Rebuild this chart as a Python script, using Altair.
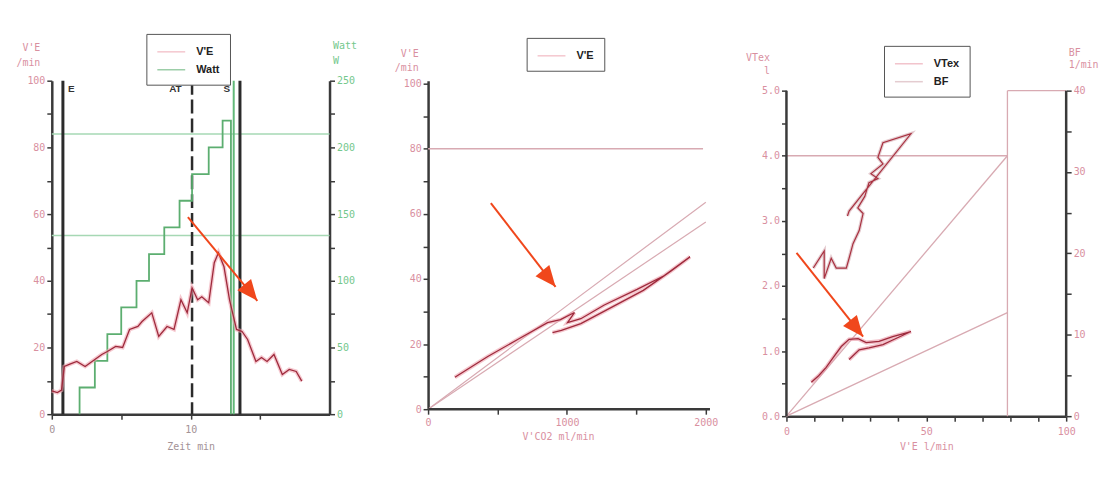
import altair as alt
import pandas as pd

FONT = "DejaVu Sans Mono"
AX = "#3a3a3a"
PINK = "#d9909f"
GREEN = "#74c88c"
GRAYT = "#a39296"
VE_CORE = "#9e2a3c"
VE_HALO = "#eea3af"
WATT_C = "#5cae70"
REF_G = "#a6d8b4"
REF_P = "#d8aab2"
ARROW = "#f0471c"
ARROW_SHAPE = "M0,0 L-0.85,2 L0.85,2 Z"
LEGEND_LINE = "M-1,0 L3,0"

# ---------------- Panel 1: V'E and Watt over time ----------------
t_ve = [0.0, 0.4, 0.7, 0.9, 1.3, 1.8, 2.4, 2.9, 3.6, 4.0, 4.6, 5.1, 5.6, 6.2, 6.5, 7.2, 7.7, 8.3, 8.8, 9.3,
        9.75, 10.1, 10.5, 10.8, 11.3, 11.7, 12.0, 12.4, 12.8, 13.3, 13.7, 14.1, 14.7, 15.1, 15.5, 16.0, 16.6, 17.1, 17.6, 18.0]
ve_time = [7.0, 6.5, 7.2, 14.3, 15.0, 15.8, 14.3, 15.8, 17.9, 18.8, 20.3, 20.0, 25.4, 26.3, 27.8, 30.4, 23.3, 26.3, 25.4, 34.3,
           30.4, 37.9, 34.3, 35.2, 33.4, 45.4, 48.4, 44.2, 34.3, 25.4, 24.8, 22.4, 15.8, 17.0, 15.8, 17.9, 11.9, 13.4, 12.8, 9.9]
t_watt = [2.0, 2.0, 3.1, 4.0, 5.0, 6.1, 7.0, 8.1, 9.2, 10.1, 11.3, 12.3, 12.9]
watt = [0, 20, 40, 60, 80, 100, 120, 140, 160, 180, 200, 220, 0]
watt_ref = [210, 134]
marker_solid_t = [0.8, 13.55]
marker_dash_t = [10.1]
marker_green_t = [13.1]
marker_labels = ["E", "AT", "S"]
marker_label_t = [1.4, 8.9, 12.6]
marker_label_ve = [97.5, 97.5, 97.5]
arrow1 = [9.8, 59.1, 14.8, 34.0]

# ---------------- Panel 2: V'E vs V'CO2 ----------------
vco2 = [193, 430, 645, 860, 953, 1054, 1004, 1100, 1269, 1505, 1699, 1886, 1750, 1550, 1300, 1100, 960, 896]
ve_co2 = [9.8, 16.2, 21.4, 26.6, 27.5, 29.7, 26.6, 27.8, 32.0, 36.8, 41.0, 46.8, 42.5, 36.5, 30.8, 26.3, 24.2, 23.5]
ref_slope_end = [63.6, 57.5]   # V'E at V'CO2 = 2000 for the lines through the origin
ve_level = [80]
arrow2 = [452, 63.3, 918, 37.6]

# ---------------- Panel 3: VTex and BF vs V'E ----------------
ve_vt = [8.9, 11.5, 14.2, 16.7, 19.6, 22.4, 25.6, 28.5, 33.1, 38.0, 44.5, 38.0, 34.5, 29.5, 26.0, 22.4]
vtex = [0.52, 0.62, 0.75, 0.90, 1.07, 1.18, 1.19, 1.13, 1.15, 1.22, 1.30, 1.17, 1.10, 1.05, 1.02, 0.87]
ve_bf = [9.6, 13.5, 13.5, 16.0, 17.8, 21.4, 22.4, 23.8, 26.0, 27.4, 25.5, 28.0, 29.5, 32.7, 30.2, 34.5, 32.7, 34.5, 44.5, 27.0, 22.4, 21.8]
bf = [18.2, 20.3, 16.9, 19.4, 18.2, 18.2, 19.4, 21.2, 22.8, 24.9, 25.6, 27.0, 28.7, 29.2, 29.8, 31.0, 31.8, 33.6, 34.7, 27.2, 25.2, 24.6]
ve_limit = 79
vt_level = 4.0
vt_diag_end = [4.0, 1.59]
arrow3 = [3.6, 2.51, 27.4, 1.22]


def legend(x, y):
    return alt.Legend(orient="none", legendX=x, legendY=y, title=None, direction="vertical",
                      symbolType=LEGEND_LINE, symbolSize=196, symbolStrokeWidth=1.5,
                      labelFont="Liberation Sans", labelFontSize=11, labelFontWeight="bold",
                      labelColor="#222", strokeColor="#555", fillColor="white",
                      padding=10, rowPadding=5, labelOffset=24)


def arrow_layers(vals, X, Y):
    df = pd.DataFrame({"x0": [vals[0]], "y0": [vals[1]], "x1": [vals[2]], "y1": [vals[3]]})
    shaft = alt.Chart(df).mark_rule(color=ARROW, strokeWidth=2).encode(
        x=X("x0"), y=Y("y0"), x2="x1:Q", y2="y1:Q")
    head = alt.Chart(df).mark_point(shape=ARROW_SHAPE, size=440, angle=141, filled=True,
                                    color=ARROW, opacity=1).encode(x=X("x1"), y=Y("y1"))
    return [shaft, head]


# ---------- Panel 1 ----------
XS1 = alt.Scale(domain=[0, 20], nice=False, zero=False)
AX_X1 = alt.Axis(values=[0, 5, 10, 15], labelExpr="datum.value % 10 == 0 ? datum.label : ''",
                 title="Zeit  min", titleColor=GRAYT, labelColor=GRAYT, titleY=32,
                 titleBaseline="middle", labelPadding=5, labelFlush=False)
YS1 = alt.Scale(domain=[0, 100], nice=False)
WS1 = alt.Scale(domain=[0, 250], nice=False)
AX_VE1 = alt.Axis(orient="left", values=list(range(0, 101, 10)),
                  labelExpr="datum.value % 20 == 0 ? datum.label : ''", labelColor=PINK,
                  title=["V'E", "/min"], titleColor=PINK, titleAngle=0, titleAlign="right",
                  titleBaseline="top", titleX=-12, titleY=-38, titleLineHeight=15)
AX_W1 = alt.Axis(orient="right", values=list(range(0, 251, 25)),
                 labelExpr="datum.value % 50 == 0 ? datum.label : ''", labelColor=GREEN,
                 title=["Watt", "W"], titleColor=GREEN, titleAngle=0, titleAlign="left",
                 titleBaseline="top", titleX=3, titleY=-40, titleLineHeight=15)


def x1(f):
    return alt.X(f"{f}:Q", scale=XS1, axis=AX_X1)


def y1(f, axis=None):
    return alt.Y(f"{f}:Q", scale=YS1, axis=axis)


def w1(f, axis=None):
    return alt.Y(f"{f}:Q", scale=WS1, axis=axis)


ve1_df = pd.DataFrame({"t": t_ve, "v": ve_time, "s": ["V'E"] * len(t_ve)})
w_df = pd.DataFrame({"t": t_watt, "w": watt, "s": ["Watt"] * len(t_watt), "i": list(range(len(t_watt)))})
color1 = alt.Color("s:N", scale=alt.Scale(domain=["V'E", "Watt"], range=[VE_HALO, WATT_C]),
                   legend=legend(95, -47))

wref = alt.Chart(pd.DataFrame({"w": watt_ref, "t0": [0] * len(watt_ref), "t1": [20] * len(watt_ref)})).mark_rule(
    color=REF_G, strokeWidth=1.5).encode(x=x1("t0"), x2="t1:Q", y=w1("w"))
vsolid = alt.Chart(pd.DataFrame({"t": marker_solid_t})).mark_rule(color="#2b2b2b", strokeWidth=3).encode(x=x1("t"))
vdash = alt.Chart(pd.DataFrame({"t": marker_dash_t})).mark_rule(
    color="#2b2b2b", strokeWidth=2.5, strokeDash=[14, 5]).encode(x=x1("t"))
vgreen = alt.Chart(pd.DataFrame({"t": marker_green_t})).mark_rule(color="#62b979", strokeWidth=2).encode(x=x1("t"))
wline = alt.Chart(w_df).mark_line(interpolate="step-after", strokeWidth=1.8).encode(
    x=x1("t"), y=w1("w", AX_W1), color=color1, order="i:Q")
halo1 = alt.Chart(ve1_df).mark_line(strokeWidth=4, opacity=0.6).encode(
    x=x1("t"), y=y1("v", AX_VE1), color=color1)
core1 = alt.Chart(ve1_df).mark_line(strokeWidth=1.3, color=VE_CORE).encode(x=x1("t"), y=y1("v"))
txt1 = alt.Chart(pd.DataFrame({"t": marker_label_t, "v": marker_label_ve, "txt": marker_labels})).mark_text(
    font="Liberation Sans", fontSize=10, fontWeight="bold", color="#333").encode(
    x=x1("t"), y=y1("v"), text="txt:N")

p1 = alt.layer(wref, vsolid, vdash, vgreen, wline, halo1, core1, txt1,
               *arrow_layers(arrow1, x1, y1)).resolve_scale(y="independent").properties(width=279, height=335)

# ---------- Panel 2 ----------
XS2 = alt.Scale(domain=[-129, 2000], nice=False, zero=False)
AX_X2 = alt.Axis(values=[0, 500, 1000, 1500, 2000], format="d",
                 labelExpr="datum.value % 1000 == 0 ? datum.label : ''", domain=False,
                 title="V'CO2  ml/min", titleColor=PINK, labelColor=PINK, titleY=27,
                 titleBaseline="middle", labelPadding=3, labelFlush=False)
YS2 = alt.Scale(domain=[0, 100.92], nice=False)
AX_VE2 = alt.Axis(orient="left", offset=-18, values=list(range(0, 101, 10)),
                  labelExpr="datum.value % 20 == 0 ? datum.label : ''", labelColor=PINK,
                  title=["V'E", "/min"], titleColor=PINK, titleAngle=0, titleAlign="right",
                  titleBaseline="top", titleX=-10, titleY=-32, titleLineHeight=14)


def x2(f):
    return alt.X(f"{f}:Q", scale=XS2, axis=AX_X2)


def y2(f):
    return alt.Y(f"{f}:Q", scale=YS2, axis=AX_VE2)


co2_df = pd.DataFrame({"c": vco2, "v": ve_co2, "s": ["V'E"] * len(vco2), "i": list(range(len(vco2)))})
color2 = alt.Color("s:N", scale=alt.Scale(domain=["V'E"], range=[VE_HALO]), legend=legend(117, -43))

xline2 = alt.Chart(pd.DataFrame({"a": [0], "b": [2030], "v": [0]})).mark_rule(
    color=AX, strokeWidth=2.5).encode(x=x2("a"), x2="b:Q", y=y2("v"))
lvl2 = alt.Chart(pd.DataFrame({"a": [0], "b": [1980], "v": ve_level})).mark_rule(
    color=REF_P, strokeWidth=1.5).encode(x=x2("a"), x2="b:Q", y=y2("v"))
diag2 = alt.Chart(pd.DataFrame({"a": [0, 0], "b": [2000, 2000], "v0": [0, 0], "v1": ref_slope_end})).mark_rule(
    color=REF_P, strokeWidth=1.2).encode(x=x2("a"), x2="b:Q", y=y2("v0"), y2="v1:Q")
halo2 = alt.Chart(co2_df).mark_line(strokeWidth=4, opacity=0.6).encode(
    x=x2("c"), y=y2("v"), color=color2, order="i:Q")
core2 = alt.Chart(co2_df).mark_line(strokeWidth=1.3, color=VE_CORE).encode(x=x2("c"), y=y2("v"), order="i:Q")

p2 = alt.layer(lvl2, diag2, halo2, core2, xline2, *arrow_layers(arrow2, x2, y2)).properties(width=297, height=330)

# ---------- Panel 3 ----------
XS3 = alt.Scale(domain=[0, 100], nice=False)
AX_X3 = alt.Axis(values=list(range(0, 101, 10)), labelExpr="datum.value % 50 == 0 ? datum.label : ''",
                 title="V'E  l/min", titleColor=PINK, labelColor=PINK, titleY=30,
                 titleBaseline="middle", labelPadding=5, labelFlush=False)
VS3 = alt.Scale(domain=[0, 5.153], nice=False)
BS3 = alt.Scale(domain=[0, 41.22], nice=False)
AX_VT = alt.Axis(orient="left", domain=False, values=[v / 2 for v in range(0, 11)],
                 labelExpr="datum.value % 1 == 0 ? format(datum.value, '.1f') : ''", labelColor=PINK,
                 title=["VTex", "l"], titleColor=PINK, titleAngle=0, titleAlign="right",
                 titleBaseline="top", titleX=-17, titleY=-28, titleLineHeight=13)
AX_BF = alt.Axis(orient="right", domain=False, values=list(range(0, 41, 5)),
                 labelExpr="datum.value % 10 == 0 ? datum.label : ''", labelColor=PINK,
                 title=["BF", "1/min"], titleColor=PINK, titleAngle=0, titleAlign="left",
                 titleBaseline="top", titleX=2, titleY=-33, titleLineHeight=12)


def x3(f):
    return alt.X(f"{f}:Q", scale=XS3, axis=AX_X3)


def v3(f, axis=None):
    return alt.Y(f"{f}:Q", scale=VS3, axis=axis)


def b3(f, axis=None):
    return alt.Y(f"{f}:Q", scale=BS3, axis=axis)


vt_df = pd.DataFrame({"e": ve_vt, "v": vtex, "s": ["VTex"] * len(ve_vt), "i": list(range(len(ve_vt)))})
bf_df = pd.DataFrame({"e": ve_bf, "b": bf, "s": ["BF"] * len(ve_bf), "i": list(range(len(ve_bf)))})
color3 = alt.Color("s:N", scale=alt.Scale(domain=["VTex", "BF"], range=["#e895a4", "#cfa3aa"]),
                   legend=legend(98, -35))

axl3 = alt.Chart(pd.DataFrame({"e": [0, 100], "v0": [0, 0], "v1": [5.0, 5.0]})).mark_rule(
    color=AX, strokeWidth=2.5).encode(x=x3("e"), y=v3("v0", AX_VT), y2="v1:Q")
segs3 = alt.Chart(pd.DataFrame({
    "e0": [0, ve_limit, ve_limit, 0, 0],
    "e1": [ve_limit, ve_limit, 100, ve_limit, ve_limit],
    "v0": [vt_level, 0, 5.0, 0, 0],
    "v1": [vt_level, 5.0, 5.0, vt_diag_end[0], vt_diag_end[1]],
})).mark_rule(color=REF_P, strokeWidth=1.3).encode(x=x3("e0"), x2="e1:Q", y=v3("v0"), y2="v1:Q")
bfh = alt.Chart(bf_df).mark_line(strokeWidth=3.5, opacity=0.55).encode(
    x=x3("e"), y=b3("b", AX_BF), color=color3, order="i:Q")
bfc = alt.Chart(bf_df).mark_line(strokeWidth=1.2, color="#a8303f").encode(x=x3("e"), y=b3("b"), order="i:Q")
vth = alt.Chart(vt_df).mark_line(strokeWidth=4, opacity=0.6).encode(
    x=x3("e"), y=v3("v"), color=color3, order="i:Q")
vtc = alt.Chart(vt_df).mark_line(strokeWidth=1.3, color=VE_CORE).encode(x=x3("e"), y=v3("v"), order="i:Q")

p3 = alt.layer(segs3, axl3, bfh, bfc, vth, vtc, *arrow_layers(arrow3, x3, v3)).resolve_scale(
    y="independent").properties(width=281, height=337)

chart = alt.hconcat(p1, p2, p3, spacing=81, bounds="flush").resolve_scale(
    color="independent"
).resolve_legend(color="independent").properties(
    padding={"left": 7, "top": 24, "right": 5, "bottom": 5}, background="white"
).configure_view(strokeWidth=0).configure_axis(
    domainColor=AX, domainWidth=2.5, tickColor=AX, tickWidth=1.5, tickSize=5,
    labelFont=FONT, labelFontSize=10, titleFont=FONT, titleFontSize=10,
    titleFontWeight="normal", grid=False
)

chart.save("out.html", embed_options={"renderer": "svg", "actions": False})
